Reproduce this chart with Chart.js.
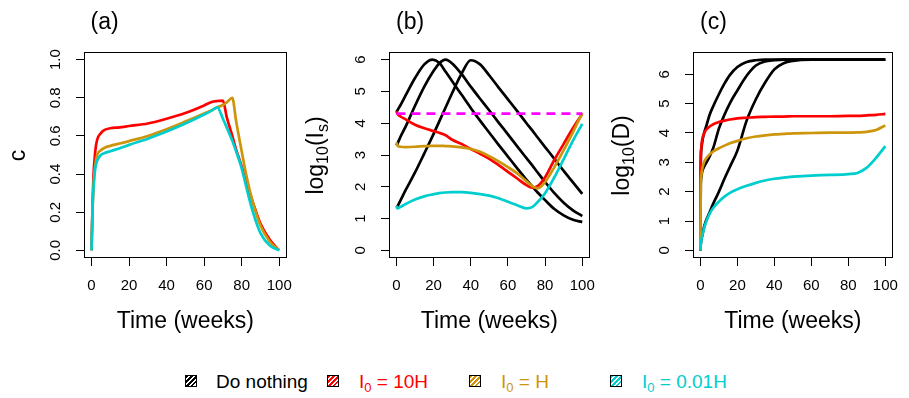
<!DOCTYPE html>
<html>
<head>
<meta charset="utf-8">
<script src="https://cdn.jsdelivr.net/npm/chart.js@4.4.1/dist/chart.umd.min.js"></script>
<style>
  body { margin: 0; background: #fff; width: 909px; height: 398px; position: relative; overflow: hidden;
         font-family: "Liberation Sans", Arial, sans-serif; }
  canvas { position: absolute; top: 0; }
  .sw { position: absolute; top: 375px; width: 12px; height: 12px; box-sizing: border-box;
        border: 1px solid #000;
        background: repeating-linear-gradient(135deg, var(--c) 0 1.5px, #fff 1.5px 3.5px); }
  .lt { position: absolute; top: 372px; font-size: 19px; line-height: 19px; white-space: nowrap; }
  .lt sub { font-size: 13px; line-height: 0; vertical-align: -4px; }
</style>
</head>
<body>
<canvas id="panelA" width="303" height="340" style="left:0px"></canvas>
<canvas id="panelB" width="303" height="340" style="left:303px"></canvas>
<canvas id="panelC" width="303" height="340" style="left:606px"></canvas>

<span class="sw" style="left:185px;--c:#000"></span>
<span class="lt" style="left:216px;color:#000">Do nothing</span>
<span class="sw" style="left:327px;--c:#FF0000"></span>
<span class="lt" style="left:359px;color:#FF0000">I<sub>0</sub> = 10H</span>
<span class="sw" style="left:469px;--c:#CD950C"></span>
<span class="lt" style="left:501px;color:#CD950C">I<sub>0</sub> = H</span>
<span class="sw" style="left:610px;--c:#00CDCD"></span>
<span class="lt" style="left:642px;color:#00CDCD">I<sub>0</sub> = 0.01H</span>

<script>
"use strict";
/* ---------- data ---------- */
var xTicks = [0, 20, 40, 60, 80, 100];
var yTicksA = [0, 0.2, 0.4, 0.6, 0.8, 1.0];
var yTicksLog = [0, 1, 2, 3, 4, 5, 6];

// (a) c over time
var weeksA   = [0, 0.5, 1, 2, 3, 5, 7, 10, 15, 20, 30, 40, 50, 60, 64, 67, 70, 72, 75, 77, 80, 83, 86, 90, 95, 100];
var cRedA    = [0, 0.22, 0.38, 0.52, 0.58, 0.615, 0.632, 0.64, 0.645, 0.652, 0.665, 0.69, 0.72, 0.76, 0.778, 0.783, 0.785, 0.70, 0.6, 0.53, 0.44, 0.34, 0.25, 0.14, 0.055, 0];
var cOrangeA = [0, 0.2, 0.33, 0.45, 0.5, 0.525, 0.538, 0.548, 0.56, 0.573, 0.6, 0.635, 0.675, 0.717, 0.735, 0.75, 0.762, 0.775, 0.80, 0.68, 0.52, 0.37, 0.25, 0.13, 0.045, 0];
var cCyanA   = [0, 0.2, 0.32, 0.43, 0.47, 0.5, 0.51, 0.52, 0.535, 0.553, 0.585, 0.623, 0.665, 0.712, 0.733, 0.75, 0.69, 0.645, 0.575, 0.52, 0.43, 0.31, 0.2, 0.09, 0.025, 0];

// (b) log10(Is)
var weeksB  = [0, 0.5, 2, 5, 10, 15, 19.5, 23, 26.5, 30, 35, 40, 45, 50, 55, 60, 65, 70, 73, 76, 80, 85, 90, 95, 100];
var black1B = [4.35, 4.4, 4.55, 4.88, 5.42, 5.85, 6.0, 5.9, 5.62, 5.32, 4.9, 4.48, 4.08, 3.7, 3.32, 2.95, 2.58, 2.22, 2.02, 1.82, 1.58, 1.3, 1.1, 0.96, 0.89];
var black2B = [3.3, 3.35, 3.55, 3.9, 4.55, 5.15, 5.6, 5.88, 6.0, 5.88, 5.55, 5.15, 4.77, 4.4, 4.02, 3.65, 3.27, 2.9, 2.68, 2.45, 2.15, 1.8, 1.5, 1.26, 1.08];
var black3B = [1.36, 1.38, 1.55, 1.9, 2.45, 3.05, 3.6, 4.05, 4.5, 4.95, 5.55, 5.98, 5.85, 5.5, 5.12, 4.75, 4.38, 4.0, 3.78, 3.55, 3.25, 2.88, 2.5, 2.14, 1.78];
var redB    = [4.38, 4.3, 4.22, 4.12, 3.95, 3.84, 3.76, 3.7, 3.62, 3.48, 3.35, 3.19, 3.04, 2.88, 2.68, 2.47, 2.26, 2.05, 1.97, 2.02, 2.3, 2.85, 3.35, 3.85, 4.3];
var orangeB = [3.4, 3.3, 3.26, 3.25, 3.26, 3.28, 3.29, 3.29, 3.28, 3.27, 3.24, 3.19, 3.1, 2.96, 2.8, 2.62, 2.42, 2.17, 2.02, 1.95, 2.15, 2.62, 3.15, 3.72, 4.32];
var cyanB   = [1.4, 1.32, 1.36, 1.46, 1.6, 1.7, 1.76, 1.8, 1.82, 1.83, 1.83, 1.81, 1.77, 1.72, 1.64, 1.53, 1.42, 1.32, 1.36, 1.52, 1.8, 2.3, 2.87, 3.45, 3.98];
var weeksLevel = [0, 100];
var levelB     = [4.3, 4.3];

// (c) log10(D)
var weeksC  = [0, 0.2, 0.5, 1, 2, 3, 5, 7, 10, 13, 16, 20, 25, 30, 35, 40, 45, 50, 60, 70, 80, 85, 90, 95, 100];
var black1C = [0, 3.0, 3.45, 3.7, 4.0, 4.2, 4.62, 4.92, 5.32, 5.68, 5.98, 6.25, 6.42, 6.48, 6.5, 6.5, 6.5, 6.5, 6.5, 6.5, 6.5, 6.5, 6.5, 6.5, 6.5];
var black2C = [0, 2.2, 2.5, 2.7, 2.85, 2.97, 3.2, 3.5, 4.15, 4.62, 5.02, 5.45, 5.95, 6.3, 6.44, 6.48, 6.5, 6.5, 6.5, 6.5, 6.5, 6.5, 6.5, 6.5, 6.5];
var black3C = [0, 0.2, 0.35, 0.5, 0.8, 1.0, 1.3, 1.6, 2.0, 2.44, 2.85, 3.4, 4.42, 5.15, 5.72, 6.17, 6.38, 6.46, 6.5, 6.5, 6.5, 6.5, 6.5, 6.5, 6.5];
var redC    = [0, 3.0, 3.5, 3.78, 3.98, 4.1, 4.22, 4.3, 4.37, 4.42, 4.46, 4.5, 4.52, 4.54, 4.55, 4.56, 4.56, 4.57, 4.57, 4.57, 4.58, 4.58, 4.6, 4.62, 4.65];
var orangeC = [0, 2.2, 2.55, 2.78, 3.0, 3.12, 3.27, 3.37, 3.48, 3.57, 3.65, 3.73, 3.82, 3.88, 3.92, 3.95, 3.97, 3.99, 4.0, 4.01, 4.01, 4.02, 4.04, 4.1, 4.26];
var cyanC   = [0, 0.2, 0.35, 0.5, 0.75, 0.95, 1.25, 1.45, 1.66, 1.83, 1.96, 2.08, 2.2, 2.3, 2.38, 2.44, 2.48, 2.51, 2.55, 2.57, 2.6, 2.64, 2.82, 3.15, 3.55];

/* ---------- helpers ---------- */
var FONT = '"Liberation Sans", Arial, sans-serif';
var RED = "#FF0000", GOLD = "#CD950C", CYAN = "#00CDCD", BLACK = "#000000", MAGENTA = "#FF00FF";

function pts(xs, ys) {
  return xs.map(function(x, i) { return { x: x, y: ys[i] }; });
}
function line(xs, ys, color, dash) {
  return {
    data: pts(xs, ys),
    borderColor: color,
    borderWidth: 2.7,
    borderDash: dash || [],
    pointRadius: 0,
    fill: false,
    cubicInterpolationMode: "monotone"
  };
}

function panel(id, p) {
  var framePlugin = {
    id: "frame",
    afterDraw: function(chart) {
      var ctx = chart.ctx, a = chart.chartArea;
      ctx.save();
      ctx.strokeStyle = "#000";
      ctx.lineWidth = 1;
      ctx.strokeRect(Math.round(a.left) + 0.5, Math.round(a.top) + 0.5,
                     Math.round(a.right - a.left) - 1, Math.round(a.bottom - a.top) - 1);
      ctx.fillStyle = "#000";
      ctx.textBaseline = "alphabetic";
      ctx.font = "23px " + FONT;
      ctx.textAlign = "left";
      ctx.fillText(p.title, p.titleX, 28.5);
      ctx.textAlign = "center";
      ctx.fillText("Time (weeks)", (a.left + a.right) / 2, 328);
      // rotated y label with subscripts
      ctx.translate(p.ylabX, 155.5);
      ctx.rotate(-Math.PI / 2);
      ctx.textAlign = "left";
      var w = 0;
      p.ylab.forEach(function(part) {
        ctx.font = (part.sub ? 16 : 23) + "px " + FONT;
        w += ctx.measureText(part.t).width;
      });
      var x = -w / 2;
      p.ylab.forEach(function(part) {
        ctx.font = (part.sub ? 16 : 23) + "px " + FONT;
        ctx.fillText(part.t, x, part.sub ? 5 : 0);
        x += ctx.measureText(part.t).width;
      });
      ctx.restore();
    }
  };

  return new Chart(document.getElementById(id), {
    type: "line",
    data: { datasets: p.datasets },
    plugins: [framePlugin],
    options: {
      responsive: false,
      animation: false,
      devicePixelRatio: 1,
      layout: { padding: { top: 52, right: p.padRight, left: 0, bottom: 0 } },
      plugins: { legend: { display: false }, tooltip: { enabled: false }, title: { display: false } },
      scales: {
        x: {
          type: "linear",
          min: -4, max: 104,
          afterBuildTicks: function(s) { s.ticks = xTicks.map(function(v) { return { value: v }; }); },
          afterFit: function(s) { s.height = 82; },
          grid: { drawOnChartArea: false, drawTicks: true, tickLength: 8, tickColor: "#000", tickWidth: 1 },
          border: { display: false },
          ticks: { color: "#000", font: { size: 15, family: FONT }, padding: 11, maxRotation: 0, autoSkip: false }
        },
        y: {
          type: "linear",
          min: p.yMin, max: p.yMax,
          afterBuildTicks: function(s) { s.ticks = p.yTicks.map(function(v) { return { value: v }; }); },
          afterFit: function(s) { s.width = p.boxLeft; },
          grid: { drawOnChartArea: false, drawTicks: true, tickLength: 8, tickColor: "#000", tickWidth: 1 },
          border: { display: false },
          ticks: {
            color: "#000", font: { size: 15, family: FONT },
            minRotation: 90, maxRotation: 90, crossAlign: "center", autoSkip: false,
            padding: p.tickPad,
            callback: p.fmt
          }
        }
      }
    }
  });
}

panel("panelA", {
  title: "(a)", titleX: 90.5, ylabX: 25, ylab: [{ t: "c" }],
  boxLeft: 84, padRight: 7, yMin: -0.04, yMax: 1.04, yTicks: yTicksA, tickPad: 9.5,
  fmt: function(v) { return Number(v).toFixed(1); },
  datasets: [
    line(weeksA, cCyanA, CYAN),
    line(weeksA, cOrangeA, GOLD),
    line(weeksA, cRedA, RED)
  ]
});

panel("panelB", {
  title: "(b)", titleX: 93, ylabX: 20, ylab: [{ t: "log" }, { t: "10", sub: true }, { t: "(I" }, { t: "s", sub: true }, { t: ")" }],
  boxLeft: 86, padRight: 6, yMin: -0.24, yMax: 6.24, yTicks: yTicksLog, tickPad: 15.5,
  fmt: function(v) { return String(v); },
  datasets: [
    line(weeksLevel, levelB, MAGENTA, [9, 6]),
    line(weeksB, cyanB, CYAN),
    line(weeksB, orangeB, GOLD),
    line(weeksB, redB, RED),
    line(weeksB, black3B, BLACK),
    line(weeksB, black2B, BLACK),
    line(weeksB, black1B, BLACK)
  ]
});

panel("panelC", {
  title: "(c)", titleX: 94, ylabX: 23, ylab: [{ t: "log" }, { t: "10", sub: true }, { t: "(D)" }],
  boxLeft: 87, padRight: 5, yMin: -0.26, yMax: 6.76, yTicks: yTicksLog, tickPad: 15.5,
  fmt: function(v) { return String(v); },
  datasets: [
    line(weeksC, cyanC, CYAN),
    line(weeksC, orangeC, GOLD),
    line(weeksC, redC, RED),
    line(weeksC, black3C, BLACK),
    line(weeksC, black2C, BLACK),
    line(weeksC, black1C, BLACK)
  ]
});
</script>
</body>
</html>
